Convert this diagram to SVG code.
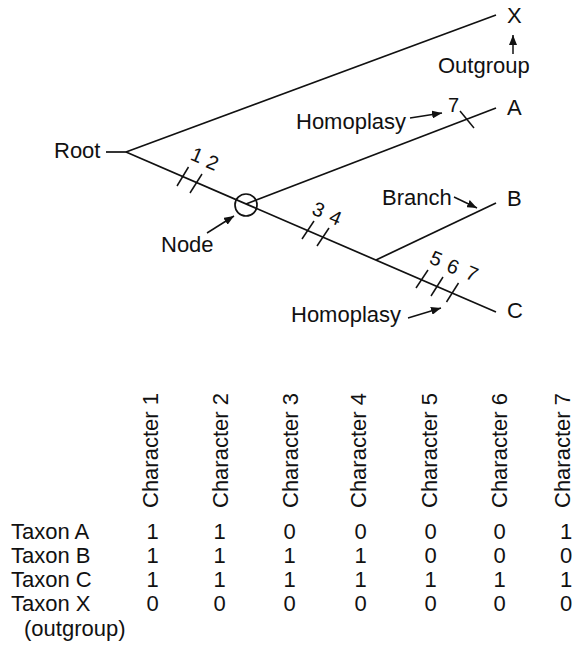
<svg xmlns="http://www.w3.org/2000/svg" width="574" height="661" viewBox="0 0 574 661">
<style>
text{font-family:"Liberation Sans",Arial,sans-serif;font-size:22px;fill:#111}
.d{font-size:20px}
.ln{stroke:#111;stroke-width:1.7;fill:none}
.tk{stroke:#111;stroke-width:1.5}
.ar{stroke:#111;stroke-width:1.5;fill:none;marker-end:url(#ah)}
</style>
<defs>
<marker id="ah" markerUnits="userSpaceOnUse" markerWidth="11" markerHeight="8" refX="10" refY="4" orient="auto">
<path d="M0,0 L10,4 L0,8 z" fill="#111"/>
</marker>
</defs>
<rect width="574" height="661" fill="#fff"/>
<g id="connectors">
<line class="ln" x1="106" y1="152" x2="126" y2="152"/>
<line class="ln" x1="126" y1="152" x2="496" y2="15"/>
<line class="ln" x1="126" y1="152" x2="496" y2="312"/>
<line class="ln" x1="246" y1="204" x2="496" y2="108"/>
<line class="ln" x1="376" y1="260" x2="496" y2="203"/>
<line class="ar" x1="513" y1="54" x2="513" y2="35"/>
<line class="ar" x1="410" y1="118" x2="442" y2="113"/>
<line class="ar" x1="454" y1="197" x2="477" y2="208"/>
<line class="ar" x1="207" y1="233" x2="234" y2="216"/>
<line class="ar" x1="408" y1="318" x2="441" y2="308"/>
</g>
<g id="ticks">
<line class="tk" x1="177" y1="186" x2="188.5" y2="167"/>
<line class="tk" x1="190" y1="193" x2="202" y2="174"/>
<line class="tk" x1="302" y1="239" x2="314" y2="221"/>
<line class="tk" x1="317" y1="246" x2="329" y2="228"/>
<line class="tk" x1="416" y1="288" x2="428" y2="270"/>
<line class="tk" x1="431" y1="296" x2="443" y2="277"/>
<line class="tk" x1="446.5" y1="302" x2="458.5" y2="283"/>
<line class="tk" x1="460" y1="111" x2="474" y2="128"/>
<g transform="translate(197,155) rotate(23)"><text class="d" y="7" text-anchor="middle">1</text></g>
<g transform="translate(212.5,162.5) rotate(23)"><text class="d" y="7" text-anchor="middle">2</text></g>
<g transform="translate(318.5,209.5) rotate(23)"><text class="d" y="7" text-anchor="middle">3</text></g>
<g transform="translate(335.5,217.5) rotate(23)"><text class="d" y="7" text-anchor="middle">4</text></g>
<g transform="translate(436,258.5) rotate(23)"><text class="d" y="7" text-anchor="middle">5</text></g>
<g transform="translate(453,266.5) rotate(23)"><text class="d" y="7" text-anchor="middle">6</text></g>
<g transform="translate(472,273.5) rotate(23)"><text class="d" y="7" text-anchor="middle">7</text></g>
<text class="d" x="453.5" y="111.5" text-anchor="middle">7</text>
</g>
<g id="node-root"><text x="54" y="158">Root</text></g>
<g id="node-node"><circle cx="246" cy="205" r="11" class="ln"/><text x="161" y="252">Node</text></g>
<g id="node-X"><text x="507" y="23">X</text></g>
<g id="label-outgroup"><text x="438" y="73">Outgroup</text></g>
<g id="node-A"><text x="507" y="115">A</text></g>
<g id="node-B"><text x="507" y="206">B</text></g>
<g id="node-C"><text x="507" y="318">C</text></g>
<g id="label-homoplasy1"><text x="296" y="129">Homoplasy</text></g>
<g id="label-branch"><text x="382" y="205">Branch</text></g>
<g id="label-homoplasy2"><text x="291" y="322">Homoplasy</text></g>
<g id="table">
<text transform="translate(158,508) rotate(-90)">Character 1</text>
<text transform="translate(228,508) rotate(-90)">Character 2</text>
<text transform="translate(298,508) rotate(-90)">Character 3</text>
<text transform="translate(366,508) rotate(-90)">Character 4</text>
<text transform="translate(437,508) rotate(-90)">Character 5</text>
<text transform="translate(507,508) rotate(-90)">Character 6</text>
<text transform="translate(570,508) rotate(-90)">Character 7</text>
<text x="11" y="539">Taxon A</text>
<text x="11" y="563">Taxon B</text>
<text x="11" y="587">Taxon C</text>
<text x="11" y="611">Taxon X</text>
<text x="24" y="636">(outgroup)</text>
<g text-anchor="middle">
<text x="152.5" y="539">1</text><text x="219.5" y="539">1</text><text x="289.5" y="539">0</text><text x="360.5" y="539">0</text><text x="430.5" y="539">0</text><text x="499.5" y="539">0</text><text x="566" y="539">1</text>
<text x="152.5" y="563">1</text><text x="219.5" y="563">1</text><text x="289.5" y="563">1</text><text x="360.5" y="563">1</text><text x="430.5" y="563">0</text><text x="499.5" y="563">0</text><text x="566" y="563">0</text>
<text x="152.5" y="587">1</text><text x="219.5" y="587">1</text><text x="289.5" y="587">1</text><text x="360.5" y="587">1</text><text x="430.5" y="587">1</text><text x="499.5" y="587">1</text><text x="566" y="587">1</text>
<text x="152.5" y="611">0</text><text x="219.5" y="611">0</text><text x="289.5" y="611">0</text><text x="360.5" y="611">0</text><text x="430.5" y="611">0</text><text x="499.5" y="611">0</text><text x="566" y="611">0</text>
</g>
</g>
</svg>
